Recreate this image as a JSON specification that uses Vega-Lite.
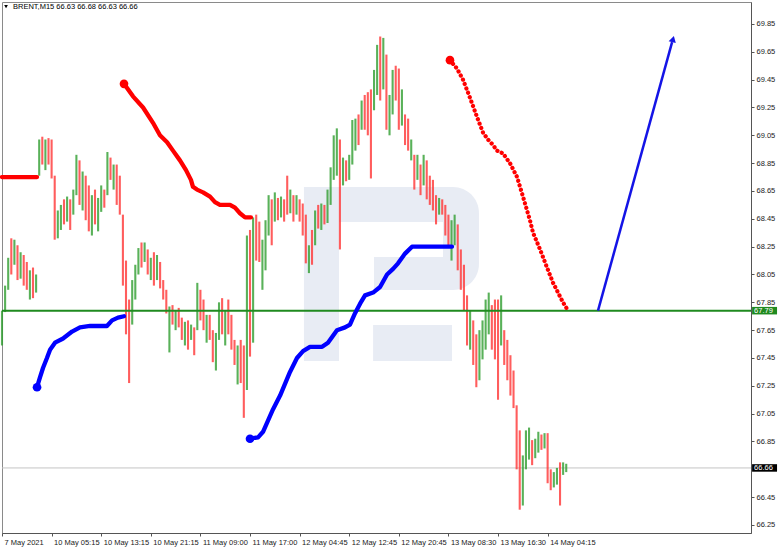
{
  "$schema": "https://vega.github.io/schema/vega-lite/v6.json",
  "width": 749,
  "height": 531,
  "autosize": {"type": "none"},
  "padding": {"left": 2, "top": 2, "right": 31, "bottom": 16},
  "background": "#ffffff",
  "config": {
    "view": {"stroke": "#8a8a8a", "strokeWidth": 1},
    "font": "Liberation Sans",
    "axis": {"labelFont": "Liberation Sans", "labelFontSize": 7.5, "labelColor": "#1a1a1a", "domainColor": "#555555", "tickColor": "#555555", "grid": false, "title": null}
  },
  "encoding": {
    "x": {"field": "x", "type": "quantitative", "scale": {"domain": [0, 483.2], "nice": false, "zero": false}, "axis": {
      "orient": "bottom",
      "values": [0, 32, 64, 96, 128, 160, 192, 224, 256, 288, 320, 352],
      "labelExpr": "['7 May 2021','10 May 05:15','10 May 13:15','10 May 21:15','11 May 09:00','11 May 17:00','12 May 04:45','12 May 12:45','12 May 20:45','13 May 08:30','13 May 16:30','14 May 04:15'][round(datum.value/32)]",
      "labelAlign": "left", "labelBaseline": "top", "labelPadding": 2, "labelOffset": 2,
      "tickSize": 3, "labelOverlap": false, "labelFlush": false, "title": null
    }},
    "y": {"field": "y", "type": "quantitative", "scale": {"domain": [66.1925, 70.008], "nice": false, "zero": false}, "axis": {
      "orient": "right",
      "values": [66.25, 66.45, 66.85, 67.05, 67.25, 67.45, 67.65, 67.85, 68.05, 68.25, 68.45, 68.65, 68.85, 69.05, 69.25, 69.45, 69.65, 69.85],
      "format": ".2f", "tickSize": 3, "labelPadding": 2, "labelAlign": "left", "labelBaseline": "middle",
      "labelOverlap": false, "labelFlush": false, "title": null
    }}
  },
  "datasets": {
    "candles": [
      {"x":0,"hi":67.79,"y":67.54,"d":"u"},{"x":2,"hi":67.97,"y":67.78,"d":"u"},{"x":4,"hi":68.17,"y":67.94,"d":"u"},{"x":6,"hi":68.31,"y":68.05,"d":"d"},
      {"x":8,"hi":68.30,"y":68.12,"d":"u"},{"x":10,"hi":68.26,"y":68.01,"d":"d"},{"x":12,"hi":68.21,"y":68.02,"d":"u"},{"x":14,"hi":68.19,"y":67.97,"d":"d"},
      {"x":16,"hi":68.14,"y":67.94,"d":"d"},{"x":18,"hi":68.08,"y":67.87,"d":"u"},{"x":20,"hi":68.10,"y":67.88,"d":"d"},{"x":22,"hi":68.05,"y":67.92,"d":"u"},
      {"x":24,"hi":69.02,"y":68.76,"d":"u"},{"x":26,"hi":69.04,"y":68.84,"d":"d"},{"x":28,"hi":69.02,"y":68.80,"d":"u"},{"x":30,"hi":69.03,"y":68.84,"d":"d"},
      {"x":32,"hi":69.02,"y":68.74,"d":"d"},{"x":34,"hi":68.76,"y":68.30,"d":"d"},{"x":36,"hi":68.51,"y":68.31,"d":"u"},{"x":38,"hi":68.55,"y":68.37,"d":"u"},
      {"x":40,"hi":68.59,"y":68.41,"d":"d"},{"x":42,"hi":68.61,"y":68.43,"d":"u"},{"x":44,"hi":68.59,"y":68.37,"d":"d"},{"x":46,"hi":68.66,"y":68.48,"d":"u"},
      {"x":48,"hi":68.91,"y":68.62,"d":"u"},{"x":50,"hi":68.87,"y":68.55,"d":"d"},{"x":52,"hi":68.79,"y":68.51,"d":"u"},{"x":54,"hi":68.76,"y":68.44,"d":"d"},
      {"x":56,"hi":68.69,"y":68.36,"d":"d"},{"x":58,"hi":68.62,"y":68.33,"d":"u"},{"x":60,"hi":68.66,"y":68.41,"d":"d"},{"x":62,"hi":68.60,"y":68.36,"d":"u"},
      {"x":64,"hi":68.69,"y":68.50,"d":"u"},{"x":66,"hi":68.66,"y":68.53,"d":"d"},{"x":68,"hi":68.93,"y":68.62,"d":"u"},{"x":70,"hi":68.89,"y":68.73,"d":"d"},
      {"x":72,"hi":68.84,"y":68.66,"d":"u"},{"x":74,"hi":68.84,"y":68.55,"d":"d"},{"x":76,"hi":68.76,"y":68.48,"d":"d"},{"x":78,"hi":68.48,"y":67.97,"d":"d"},
      {"x":80,"hi":68.15,"y":67.62,"d":"d"},{"x":82,"hi":67.87,"y":67.27,"d":"d"},{"x":84,"hi":68.01,"y":67.69,"d":"u"},{"x":86,"hi":68.12,"y":67.87,"d":"u"},
      {"x":88,"hi":68.24,"y":68.05,"d":"u"},{"x":90,"hi":68.28,"y":68.10,"d":"d"},{"x":92,"hi":68.28,"y":68.14,"d":"u"},{"x":94,"hi":68.23,"y":68.05,"d":"d"},
      {"x":96,"hi":68.17,"y":68.01,"d":"u"},{"x":98,"hi":68.21,"y":67.97,"d":"d"},{"x":100,"hi":68.19,"y":68.01,"d":"u"},{"x":102,"hi":68.14,"y":67.95,"d":"d"},
      {"x":104,"hi":68.01,"y":67.87,"d":"d"},{"x":106,"hi":67.94,"y":67.77,"d":"d"},{"x":108,"hi":67.82,"y":67.49,"d":"u"},{"x":110,"hi":67.83,"y":67.69,"d":"d"},
      {"x":112,"hi":67.79,"y":67.65,"d":"u"},{"x":114,"hi":67.81,"y":67.67,"d":"d"},{"x":116,"hi":67.74,"y":67.58,"d":"d"},{"x":118,"hi":67.71,"y":67.54,"d":"u"},
      {"x":120,"hi":67.72,"y":67.51,"d":"d"},{"x":122,"hi":67.69,"y":67.58,"d":"u"},{"x":124,"hi":67.67,"y":67.47,"d":"d"},{"x":126,"hi":67.99,"y":67.65,"d":"u"},
      {"x":128,"hi":67.94,"y":67.72,"d":"d"},{"x":130,"hi":67.87,"y":67.65,"d":"d"},{"x":132,"hi":67.76,"y":67.56,"d":"u"},{"x":134,"hi":67.76,"y":67.58,"d":"d"},
      {"x":136,"hi":67.65,"y":67.42,"d":"d"},{"x":138,"hi":67.63,"y":67.36,"d":"u"},{"x":140,"hi":67.85,"y":67.58,"d":"u"},{"x":142,"hi":67.88,"y":67.62,"d":"d"},
      {"x":144,"hi":67.79,"y":67.54,"d":"u"},{"x":146,"hi":67.87,"y":67.62,"d":"d"},{"x":148,"hi":67.76,"y":67.51,"d":"d"},{"x":150,"hi":67.58,"y":67.40,"d":"d"},
      {"x":152,"hi":67.54,"y":67.26,"d":"u"},{"x":154,"hi":67.58,"y":67.27,"d":"d"},{"x":156,"hi":67.54,"y":67.02,"d":"d"},{"x":158,"hi":68.33,"y":67.22,"d":"u"},
      {"x":160,"hi":68.37,"y":67.46,"d":"d"},{"x":162,"hi":68.46,"y":67.56,"d":"u"},{"x":164,"hi":68.48,"y":68.15,"d":"d"},{"x":166,"hi":68.43,"y":68.14,"d":"d"},
      {"x":168,"hi":68.30,"y":67.94,"d":"u"},{"x":170,"hi":68.44,"y":68.08,"d":"u"},{"x":172,"hi":68.62,"y":68.33,"d":"u"},{"x":174,"hi":68.59,"y":68.26,"d":"d"},
      {"x":176,"hi":68.64,"y":68.43,"d":"u"},{"x":178,"hi":68.60,"y":68.44,"d":"d"},{"x":180,"hi":68.61,"y":68.46,"d":"u"},{"x":182,"hi":68.59,"y":68.43,"d":"d"},
      {"x":184,"hi":68.76,"y":68.48,"d":"d"},{"x":186,"hi":68.66,"y":68.49,"d":"u"},{"x":188,"hi":68.62,"y":68.43,"d":"d"},{"x":190,"hi":68.62,"y":68.48,"d":"u"},
      {"x":192,"hi":68.59,"y":68.43,"d":"d"},{"x":194,"hi":68.56,"y":68.33,"d":"d"},{"x":196,"hi":68.48,"y":68.13,"d":"d"},{"x":198,"hi":68.26,"y":68.06,"d":"u"},
      {"x":200,"hi":68.37,"y":68.12,"d":"d"},{"x":202,"hi":68.51,"y":68.26,"d":"u"},{"x":204,"hi":68.55,"y":68.38,"d":"d"},{"x":206,"hi":68.56,"y":68.37,"d":"u"},
      {"x":208,"hi":68.55,"y":68.41,"d":"d"},{"x":210,"hi":68.66,"y":68.42,"d":"u"},{"x":212,"hi":68.82,"y":68.55,"d":"u"},{"x":214,"hi":69.05,"y":68.73,"d":"u"},
      {"x":216,"hi":69.10,"y":68.76,"d":"u"},{"x":218,"hi":69.02,"y":68.23,"d":"d"},{"x":220,"hi":68.89,"y":68.69,"d":"u"},{"x":222,"hi":68.87,"y":68.72,"d":"d"},
      {"x":224,"hi":68.91,"y":68.73,"d":"u"},{"x":226,"hi":69.16,"y":68.84,"d":"u"},{"x":228,"hi":69.17,"y":68.94,"d":"u"},{"x":230,"hi":69.20,"y":68.98,"d":"d"},
      {"x":232,"hi":69.30,"y":69.09,"d":"u"},{"x":234,"hi":69.34,"y":69.09,"d":"d"},{"x":236,"hi":69.36,"y":69.05,"d":"d"},{"x":238,"hi":69.38,"y":68.74,"d":"d"},
      {"x":240,"hi":69.52,"y":69.23,"d":"u"},{"x":242,"hi":69.70,"y":69.34,"d":"u"},{"x":244,"hi":69.76,"y":69.30,"d":"d"},{"x":246,"hi":69.75,"y":69.38,"d":"u"},
      {"x":248,"hi":69.63,"y":69.09,"d":"d"},{"x":250,"hi":69.34,"y":69.05,"d":"u"},{"x":252,"hi":69.52,"y":69.20,"d":"u"},{"x":254,"hi":69.55,"y":69.30,"d":"d"},
      {"x":256,"hi":69.53,"y":69.09,"d":"d"},{"x":258,"hi":69.38,"y":69.12,"d":"u"},{"x":260,"hi":69.20,"y":68.98,"d":"d"},{"x":262,"hi":69.17,"y":68.94,"d":"d"},
      {"x":264,"hi":69.02,"y":68.87,"d":"u"},{"x":266,"hi":68.91,"y":68.66,"d":"d"},{"x":268,"hi":68.91,"y":68.73,"d":"u"},{"x":270,"hi":68.84,"y":68.62,"d":"d"},
      {"x":272,"hi":68.91,"y":68.69,"d":"u"},{"x":274,"hi":68.87,"y":68.59,"d":"d"},{"x":276,"hi":68.76,"y":68.55,"d":"d"},{"x":278,"hi":68.73,"y":68.51,"d":"d"},
      {"x":280,"hi":68.62,"y":68.41,"d":"d"},{"x":282,"hi":68.60,"y":68.48,"d":"u"},{"x":284,"hi":68.59,"y":68.48,"d":"d"},{"x":286,"hi":68.55,"y":68.33,"d":"d"},
      {"x":288,"hi":68.48,"y":68.26,"d":"d"},{"x":290,"hi":68.44,"y":68.15,"d":"u"},{"x":292,"hi":68.48,"y":68.26,"d":"u"},{"x":294,"hi":68.41,"y":68.08,"d":"d"},
      {"x":296,"hi":68.23,"y":67.94,"d":"d"},{"x":298,"hi":68.12,"y":67.79,"d":"d"},{"x":300,"hi":67.90,"y":67.54,"d":"d"},{"x":302,"hi":67.79,"y":67.51,"d":"u"},
      {"x":304,"hi":67.72,"y":67.40,"d":"d"},{"x":306,"hi":67.62,"y":67.24,"d":"d"},{"x":308,"hi":67.65,"y":67.29,"d":"u"},{"x":310,"hi":67.72,"y":67.44,"d":"u"},
      {"x":312,"hi":67.87,"y":67.51,"d":"u"},{"x":314,"hi":67.92,"y":67.62,"d":"u"},{"x":316,"hi":67.83,"y":67.51,"d":"d"},{"x":318,"hi":67.87,"y":67.44,"d":"d"},
      {"x":320,"hi":67.87,"y":67.15,"d":"d"},{"x":322,"hi":67.90,"y":67.54,"d":"u"},{"x":324,"hi":67.65,"y":67.40,"d":"d"},{"x":326,"hi":67.58,"y":67.29,"d":"d"},
      {"x":328,"hi":67.47,"y":67.18,"d":"d"},{"x":330,"hi":67.36,"y":67.09,"d":"d"},{"x":332,"hi":67.11,"y":66.65,"d":"d"},{"x":334,"hi":66.93,"y":66.36,"d":"d"},
      {"x":336,"hi":66.75,"y":66.39,"d":"u"},{"x":338,"hi":66.93,"y":66.65,"d":"u"},{"x":340,"hi":66.95,"y":66.72,"d":"u"},{"x":342,"hi":66.86,"y":66.68,"d":"d"},
      {"x":344,"hi":66.87,"y":66.73,"d":"u"},{"x":346,"hi":66.92,"y":66.77,"d":"u"},{"x":348,"hi":66.90,"y":66.79,"d":"d"},{"x":350,"hi":66.91,"y":66.80,"d":"u"},
      {"x":352,"hi":66.91,"y":66.55,"d":"d"},{"x":354,"hi":66.65,"y":66.50,"d":"d"},{"x":356,"hi":66.63,"y":66.52,"d":"u"},{"x":358,"hi":66.66,"y":66.54,"d":"u"},
      {"x":360,"hi":66.70,"y":66.39,"d":"d"},{"x":362,"hi":66.70,"y":66.61,"d":"u"},{"x":364,"hi":66.69,"y":66.63,"d":"u"}
    ],
    "lines": [
      {"s":"r0","k":"res","x":0,"y":68.75},{"s":"r0","k":"res","x":22.6,"y":68.75},
      {"s":"r1","k":"res","x":78.7,"y":69.42},{"s":"r1","k":"res","x":84.5,"y":69.33},{"s":"r1","k":"res","x":91.0,"y":69.25},{"s":"r1","k":"res","x":97.4,"y":69.14},
      {"s":"r1","k":"res","x":101.9,"y":69.05},{"s":"r1","k":"res","x":106.5,"y":69.00},{"s":"r1","k":"res","x":110.3,"y":68.94},{"s":"r1","k":"res","x":114.8,"y":68.87},
      {"s":"r1","k":"res","x":118.7,"y":68.80},{"s":"r1","k":"res","x":121.9,"y":68.73},{"s":"r1","k":"res","x":123.2,"y":68.68},{"s":"r1","k":"res","x":125.8,"y":68.66},
      {"s":"r1","k":"res","x":129.7,"y":68.64},{"s":"r1","k":"res","x":134.2,"y":68.61},{"s":"r1","k":"res","x":137.4,"y":68.57},{"s":"r1","k":"res","x":140.6,"y":68.55},
      {"s":"r1","k":"res","x":147.1,"y":68.55},{"s":"r1","k":"res","x":150.3,"y":68.53},{"s":"r1","k":"res","x":153.5,"y":68.49},{"s":"r1","k":"res","x":156.8,"y":68.46},
      {"s":"r1","k":"res","x":160.6,"y":68.46},
      {"s":"b1","k":"sup","x":22.6,"y":67.24},{"s":"b1","k":"sup","x":24.5,"y":67.31},{"s":"b1","k":"sup","x":26.5,"y":67.38},{"s":"b1","k":"sup","x":29.0,"y":67.45},
      {"s":"b1","k":"sup","x":31.0,"y":67.51},{"s":"b1","k":"sup","x":34.2,"y":67.56},{"s":"b1","k":"sup","x":39.4,"y":67.59},{"s":"b1","k":"sup","x":45.2,"y":67.64},
      {"s":"b1","k":"sup","x":50.3,"y":67.67},{"s":"b1","k":"sup","x":56.8,"y":67.68},{"s":"b1","k":"sup","x":67.7,"y":67.68},{"s":"b1","k":"sup","x":71.0,"y":67.72},
      {"s":"b1","k":"sup","x":74.8,"y":67.74},{"s":"b1","k":"sup","x":78.7,"y":67.75},
      {"s":"b2","k":"sup","x":160.0,"y":66.87},{"s":"b2","k":"sup","x":165.2,"y":66.88},{"s":"b2","k":"sup","x":168.4,"y":66.92},{"s":"b2","k":"sup","x":171.6,"y":67.00},
      {"s":"b2","k":"sup","x":174.8,"y":67.08},{"s":"b2","k":"sup","x":179.4,"y":67.18},{"s":"b2","k":"sup","x":185.8,"y":67.35},{"s":"b2","k":"sup","x":190.3,"y":67.45},
      {"s":"b2","k":"sup","x":194.2,"y":67.50},{"s":"b2","k":"sup","x":198.7,"y":67.53},{"s":"b2","k":"sup","x":206.5,"y":67.53},{"s":"b2","k":"sup","x":210.3,"y":67.56},
      {"s":"b2","k":"sup","x":216.1,"y":67.65},{"s":"b2","k":"sup","x":221.3,"y":67.67},{"s":"b2","k":"sup","x":224.5,"y":67.69},{"s":"b2","k":"sup","x":227.7,"y":67.77},
      {"s":"b2","k":"sup","x":231.0,"y":67.84},{"s":"b2","k":"sup","x":234.2,"y":67.90},{"s":"b2","k":"sup","x":239.4,"y":67.92},{"s":"b2","k":"sup","x":243.9,"y":67.96},
      {"s":"b2","k":"sup","x":248.4,"y":68.05},{"s":"b2","k":"sup","x":252.3,"y":68.09},{"s":"b2","k":"sup","x":255.5,"y":68.13},{"s":"b2","k":"sup","x":260.0,"y":68.20},
      {"s":"b2","k":"sup","x":264.5,"y":68.25},{"s":"b2","k":"sup","x":269.7,"y":68.25},{"s":"b2","k":"sup","x":290.3,"y":68.25}
    ],
    "dotted": [
      {"x":289.0,"y":69.59},{"x":293.5,"y":69.53},{"x":297.4,"y":69.45},{"x":301.9,"y":69.32},{"x":306.5,"y":69.18},{"x":310.3,"y":69.07},
      {"x":313.5,"y":69.02},{"x":316.8,"y":68.98},{"x":319.4,"y":68.94},{"x":323.2,"y":68.92},{"x":327.7,"y":68.85},{"x":332.3,"y":68.75},
      {"x":336.1,"y":68.61},{"x":340.6,"y":68.44},{"x":342.6,"y":68.35},{"x":347.1,"y":68.23},{"x":351.6,"y":68.10},{"x":355.5,"y":67.99},
      {"x":358.7,"y":67.92},{"x":361.9,"y":67.85},{"x":365.2,"y":67.79}
    ],
    "starts": [
      {"k":"res","x":78.7,"y":69.42},{"k":"sup","x":22.6,"y":67.24},{"k":"sup","x":160.0,"y":66.87},{"k":"res","x":289.0,"y":69.59}
    ],
    "levels": [
      {"name":"level","x":0,"y":67.79},{"name":"level","x":483.2,"y":67.79},
      {"name":"last","x":0,"y":66.66},{"name":"last","x":483.2,"y":66.66}
    ]
  },
  "layer": [
    {
      "data": {"values": [{"part":"bowl","x":194.8,"x2":307.7,"y":68.678,"y2":67.938}]},
      "mark": {"type": "rect", "color": "#e8ecf4", "cornerRadius": 26},
      "encoding": {"x2": {"field": "x2"}, "y2": {"field": "y2"}}
    },
    {
      "data": {"values": [
        {"part":"stem","x":194.8,"x2":217.4,"y":68.678,"y2":67.428},
        {"part":"leg","x":239.4,"x2":290.3,"y":67.687,"y2":67.428}
      ]},
      "mark": {"type": "rect", "color": "#e8ecf4"},
      "encoding": {"x2": {"field": "x2"}, "y2": {"field": "y2"}}
    },
    {
      "data": {"values": [
        {"part":"inner","x":217.4,"x2":284.5,"y":68.427,"y2":68.175},
        {"part":"notch","x":217.4,"x2":240.0,"y":68.175,"y2":67.938}
      ]},
      "mark": {"type": "rect", "color": "#ffffff"},
      "encoding": {"x2": {"field": "x2"}, "y2": {"field": "y2"}}
    },
    {
      "data": {"name": "levels"},
      "transform": [{"filter": "datum.name == 'last'"}],
      "mark": {"type": "line", "color": "#c4c4c4", "strokeWidth": 1}
    },
    {
      "data": {"name": "candles"},
      "transform": [{"filter": "datum.d == 'u'"}],
      "mark": {"type": "rule", "strokeWidth": 2.1, "opacity": 0.8, "color": "#2f9e2f"},
      "encoding": {"y2": {"field": "hi"}}
    },
    {
      "data": {"name": "candles"},
      "transform": [{"filter": "datum.d == 'd'"}],
      "mark": {"type": "rule", "strokeWidth": 2.1, "opacity": 0.8, "color": "#ff3535"},
      "encoding": {"y2": {"field": "hi"}}
    },
    {
      "data": {"name": "levels"},
      "transform": [{"filter": "datum.name == 'level'"}],
      "mark": {"type": "line", "color": "#1f8a1f", "strokeWidth": 2}
    },
    {
      "data": {"name": "lines"},
      "transform": [{"filter": "datum.k == 'res'"}],
      "mark": {"type": "line", "color": "#ff0000", "strokeWidth": 4.3, "strokeCap": "round", "strokeJoin": "round"},
      "encoding": {"detail": {"field": "s"}}
    },
    {
      "data": {"name": "lines"},
      "transform": [{"filter": "datum.k == 'sup'"}],
      "mark": {"type": "line", "color": "#0000ff", "strokeWidth": 4.3, "strokeCap": "round", "strokeJoin": "round"},
      "encoding": {"detail": {"field": "s"}}
    },
    {
      "data": {"name": "dotted"},
      "mark": {"type": "line", "color": "#ff0000", "strokeWidth": 4.2, "strokeCap": "round", "strokeDash": [0.1, 4.6]}
    },
    {
      "data": {"name": "starts"},
      "transform": [{"filter": "datum.k == 'res'"}],
      "mark": {"type": "point", "filled": true, "opacity": 1, "size": 75, "color": "#ff0000"}
    },
    {
      "data": {"name": "starts"},
      "transform": [{"filter": "datum.k == 'sup'"}],
      "mark": {"type": "point", "filled": true, "opacity": 1, "size": 75, "color": "#0000ff"}
    },
    {
      "data": {"values": [{"x": 384.5, "y": 67.79}, {"x": 432.3, "y": 69.72}]},
      "mark": {"type": "line", "color": "#1414e6", "strokeWidth": 2.5}
    },
    {
      "data": {"values": [{"x": 432.9, "y": 69.742}]},
      "mark": {"type": "point", "shape": "triangle-up", "filled": true, "color": "#1414e6", "opacity": 1, "size": 55, "angle": 15}
    },
    {
      "data": {"values": [{"lab": "67.79", "x": 483.9, "x2": 500.0, "y": 67.763, "y2": 67.817, "ty": 67.79}]},
      "layer": [
        {"mark": {"type": "rect", "color": "#1f8a1f"}, "encoding": {"x2": {"field": "x2"}, "y2": {"field": "y2"}}},
        {"mark": {"type": "text", "color": "#ffffff", "font": "Liberation Sans", "fontSize": 7.5, "align": "left", "baseline": "middle", "dx": 2, "dy": 0.5},
         "encoding": {"y": {"field": "ty", "type": "quantitative"}, "text": {"field": "lab"}}}
      ]
    },
    {
      "data": {"values": [{"lab": "66.66", "x": 483.9, "x2": 500.0, "y": 66.633, "y2": 66.687, "ty": 66.66}]},
      "layer": [
        {"mark": {"type": "rect", "color": "#000000"}, "encoding": {"x2": {"field": "x2"}, "y2": {"field": "y2"}}},
        {"mark": {"type": "text", "color": "#ffffff", "font": "Liberation Sans", "fontSize": 7.5, "align": "left", "baseline": "middle", "dx": 2, "dy": 0.5},
         "encoding": {"y": {"field": "ty", "type": "quantitative"}, "text": {"field": "lab"}}}
      ]
    },
    {
      "data": {"values": [{"x": 2.6, "y": 69.975}]},
      "mark": {"type": "point", "shape": "triangle-down", "filled": true, "color": "#000000", "opacity": 1, "size": 14}
    },
    {
      "data": {"values": [{"x": 7.1, "y": 69.972, "t": "BRENT,M15  66.63 66.68 66.63 66.66"}]},
      "mark": {"type": "text", "align": "left", "baseline": "middle", "font": "Liberation Sans", "fontSize": 7.5, "color": "#000000"},
      "encoding": {"text": {"field": "t"}}
    }
  ]
}
